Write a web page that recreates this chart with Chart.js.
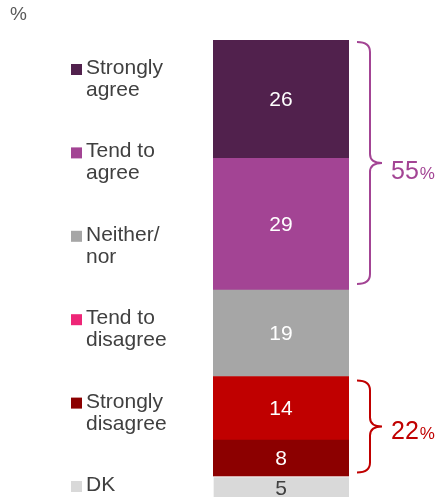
<!DOCTYPE html>
<html>
<head>
<meta charset="utf-8">
<script src="https://cdn.jsdelivr.net/npm/chart.js@4"></script>
<style>
  html, body { margin: 0; padding: 0; background: #fff; }
  #wrap { width: 436px; height: 497px; position: relative; }
</style>
</head>
<body>
<div id="wrap"><canvas id="chart"></canvas></div>
<script>
// answers, top of the bar to the bottom
const categories = ['Strongly agree', 'Tend to agree', 'Neither/nor', 'Tend to disagree', 'Strongly disagree', 'DK'];
const legendLines = [['Strongly', 'agree'], ['Tend to', 'agree'], ['Neither/', 'nor'], ['Tend to', 'disagree'], ['Strongly', 'disagree'], ['DK']];
const values = [26, 29, 19, 14, 8, 5];
const barColors = ['#51214d', '#a34494', '#a6a6a6', '#c00000', '#8c0000', '#d9d9d9'];
const legendColors = ['#51214d', '#a34494', '#a6a6a6', '#ee2677', '#8c0000', '#d9d9d9'];
const netAgree = 55;
const netDisagree = 22;

const FONT = '"Liberation Sans", Arial, sans-serif';
const TEXT = '#404040';

// stacked from the bottom, so datasets go in reverse
const order = values.map((v, i) => i).reverse();

const datasets = order.map(i => ({
  label: categories[i],
  data: [values[i]],
  backgroundColor: barColors[i],
  borderColor: '#ffffff',
  borderWidth: i === 5 ? { top: 1, left: 1 } : 0,
  borderSkipped: false
}));

function brace(ctx, x, y1, y2, color) {
  const mid = (y1 + y2) / 2;
  const r = 13;
  ctx.save();
  ctx.strokeStyle = color;
  ctx.lineWidth = 2;
  ctx.beginPath();
  ctx.moveTo(x, y1);
  ctx.quadraticCurveTo(x + r, y1, x + r, y1 + 10);
  ctx.lineTo(x + r, mid - 9);
  ctx.quadraticCurveTo(x + r, mid, x + r + 12, mid);
  ctx.quadraticCurveTo(x + r, mid, x + r, mid + 9);
  ctx.lineTo(x + r, y2 - 10);
  ctx.quadraticCurveTo(x + r, y2, x, y2);
  ctx.stroke();
  ctx.restore();
}

function netLabel(ctx, x, y, n, color) {
  ctx.save();
  ctx.fillStyle = color;
  ctx.textBaseline = 'alphabetic';
  ctx.textAlign = 'left';
  ctx.font = '25px ' + FONT;
  const s = String(n);
  ctx.fillText(s, x, y);
  const w = ctx.measureText(s).width;
  ctx.font = '17px ' + FONT;
  ctx.fillText('%', x + w + 1, y);
  ctx.restore();
}

const extras = {
  id: 'extras',
  afterDatasetsDraw(chart) {
    const ctx = chart.ctx;
    const bars = {};
    chart.data.datasets.forEach((ds, di) => {
      const el = chart.getDatasetMeta(di).data[0];
      bars[ds.label] = el;
      const cy = (el.y + el.base) / 2;
      ctx.save();
      ctx.font = '21px ' + FONT;
      ctx.textAlign = 'center';
      ctx.textBaseline = 'middle';
      ctx.fillStyle = ds.label === 'DK' ? TEXT : '#ffffff';
      ctx.fillText(String(ds.data[0]), el.x, cy + 1);
      ctx.restore();
    });

    // legend on the left
    ctx.save();
    ctx.font = '21px ' + FONT;
    ctx.textBaseline = 'alphabetic';
    ctx.textAlign = 'left';
    legendLines.forEach((lines, i) => {
      const base = 74 + i * 83.4;
      ctx.fillStyle = legendColors[i];
      ctx.fillRect(71, base - 10, 11, 11);
      ctx.fillStyle = TEXT;
      lines.forEach((t, k) => ctx.fillText(t, 86, base + k * 22));
    });
    ctx.font = '19px ' + FONT;
    ctx.fillStyle = '#595959';
    ctx.fillText('%', 10, 20);
    ctx.restore();

    // net braces
    const right = chart.chartArea.right;
    const a = bars['Strongly agree'], b = bars['Tend to agree'];
    const c = bars['Tend to disagree'], d = bars['Strongly disagree'];
    const purple = '#a34494', red = '#c00000';
    brace(ctx, right + 8, a.y + 2, b.base - 6, purple);
    netLabel(ctx, right + 42, (a.y + b.base) / 2 + 14, netAgree, purple);
    brace(ctx, right + 8, c.y + 4, d.base - 4, red);
    netLabel(ctx, right + 42, (c.y + d.base) / 2 + 12, netDisagree, red);
  }
};

new Chart(document.getElementById('chart'), {
  type: 'bar',
  data: { labels: [''], datasets },
  options: {
    responsive: true,
    maintainAspectRatio: false,
    animation: false,
    layout: { padding: { left: 213, right: 87, top: 40, bottom: 0 } },
    datasets: { bar: { categoryPercentage: 1, barPercentage: 1 } },
    plugins: { legend: { display: false }, tooltip: { enabled: false } },
    scales: {
      x: { stacked: true, display: false },
      y: { stacked: true, display: false, min: 0.5, max: 101 }
    }
  },
  plugins: [extras]
});
</script>
</body>
</html>
